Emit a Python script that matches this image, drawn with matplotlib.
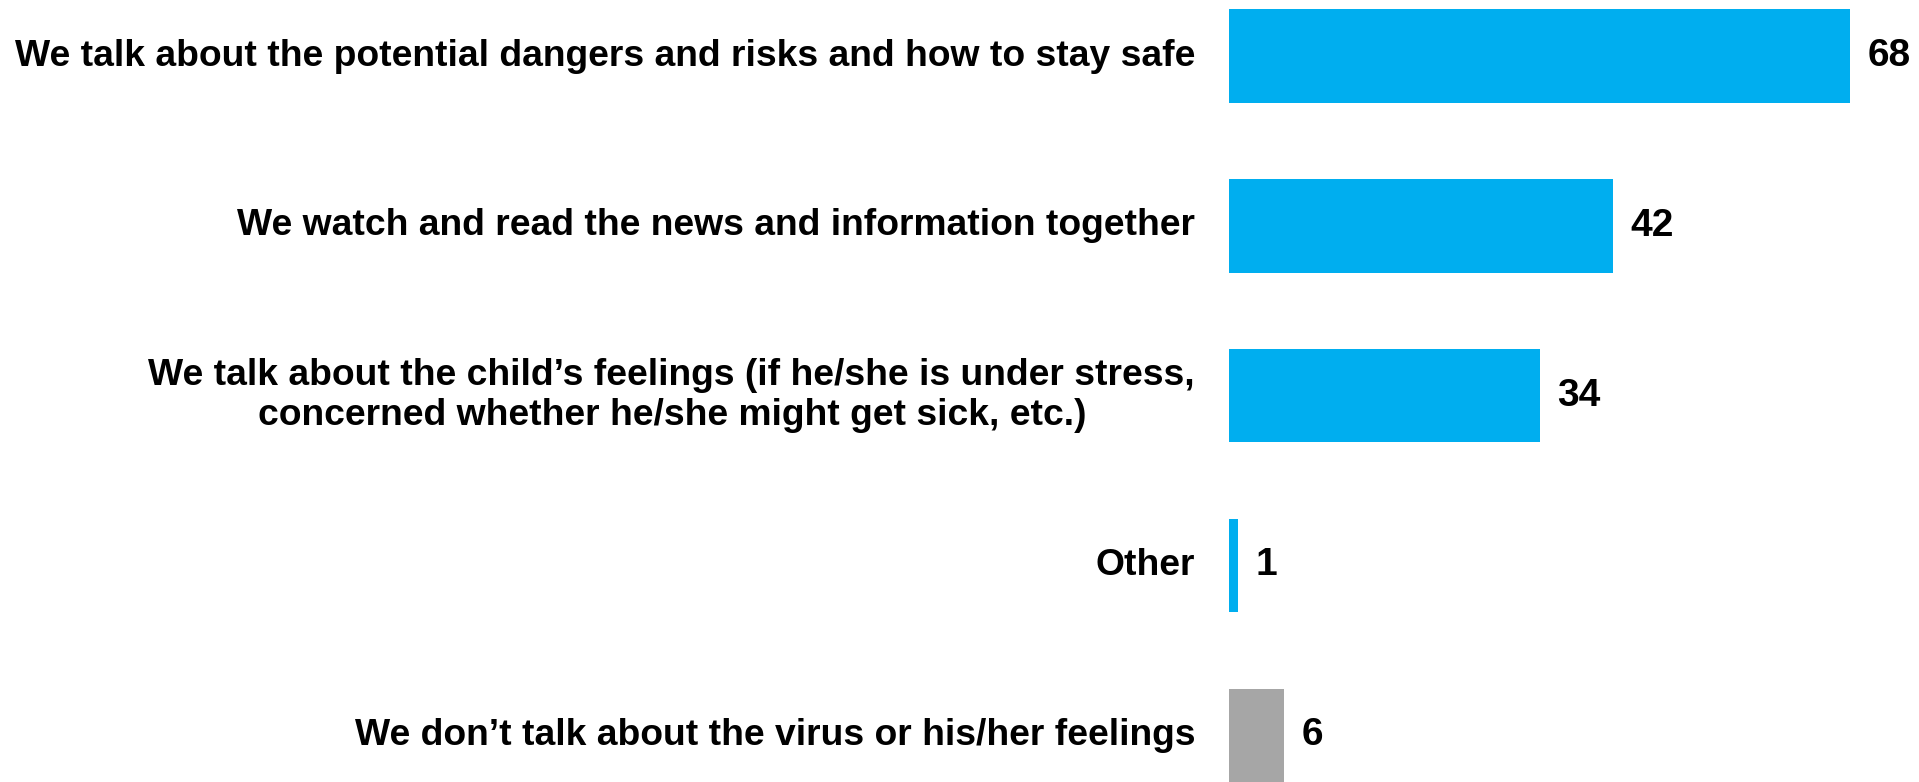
import matplotlib
matplotlib.use("Agg")
import matplotlib.pyplot as plt

categories = [
    "We talk about the potential dangers and risks and how to stay safe",
    "We watch and read the news and information together",
    "We talk about the child\u2019s feelings (if he/she is under stress,\n"
    "concerned whether he/she might get sick, etc.)",
    "Other",
    "We don\u2019t talk about the virus or his/her feelings",
]
values = [68, 42, 34, 1, 6]
colors = ["#00AEEF", "#00AEEF", "#00AEEF", "#00AEEF", "#A6A6A6"]

plt.rcParams["font.family"] = ["Liberation Sans", "DejaVu Sans"]

fig = plt.figure(figsize=(19.19, 7.82), dpi=100)
ax = fig.add_axes([0.6404, 0.0, 0.3596, 1.0])

pos = list(range(len(values)))
ax.barh(pos, values, height=0.55, color=colors)
ax.set_xlim(0, 75.5)
ax.set_ylim(4.275, -0.33)

for p, v, lab in zip(pos, values, categories):
    ax.text(v + 1.9, p, str(v), va="center", ha="left",
            fontsize=28, fontweight="bold", color="black")
    ax.text(-3.7, p, lab, va="center", ha="right", multialignment="center",
            fontsize=26.8, fontweight="bold", color="black", linespacing=1.2)

ax.axis("off")
fig.savefig("out.png", dpi=100)
